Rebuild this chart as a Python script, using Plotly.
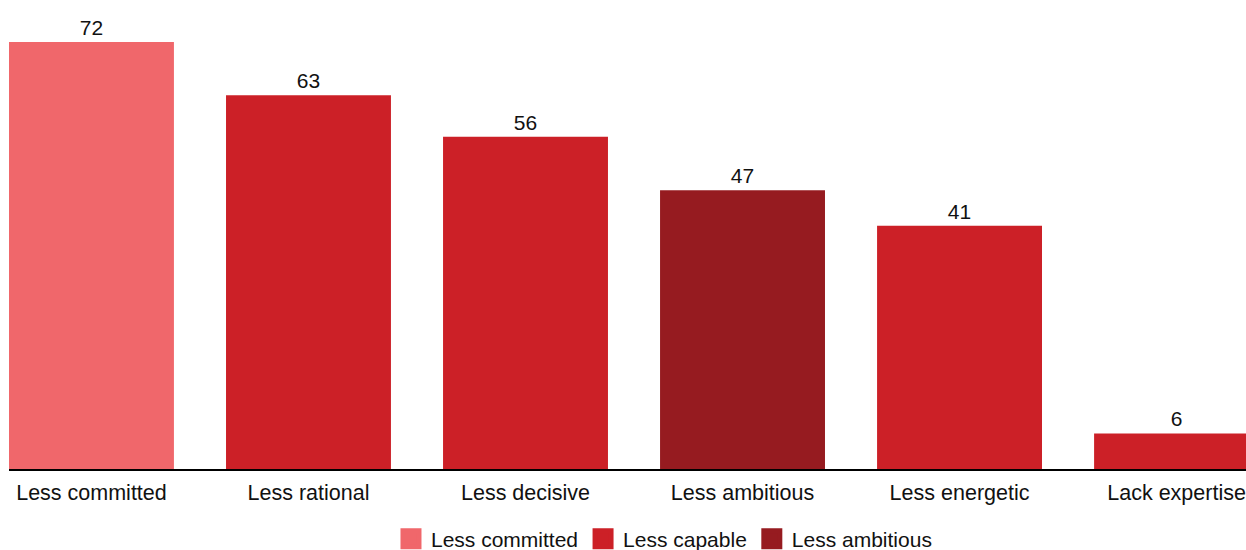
import plotly.graph_objects as go

categories = ["Less committed", "Less rational", "Less decisive", "Less ambitious", "Less energetic", "Lack expertise"]
values = [72, 63, 56, 47, 41, 6]
groups = ["Less committed", "Less capable", "Less capable", "Less ambitious", "Less capable", "Less capable"]
group_names = ["Less committed", "Less capable", "Less ambitious"]
group_colors = ["#F0676B", "#CC2027", "#961B20"]

FONT = "Liberation Sans, Arial, sans-serif"

fig = go.Figure()
for name, color in zip(group_names, group_colors):
    xs = [c for c, g in zip(categories, groups) if g == name]
    ys = [v for v, g in zip(values, groups) if g == name]
    fig.add_trace(go.Bar(
        x=xs, y=ys, name=name, marker=dict(color=color, line=dict(width=0)),
        text=[str(v) for v in ys], textposition="outside",
        textfont=dict(family=FONT, size=21, color="#111111"),
        cliponaxis=False, hoverinfo="x+y", showlegend=False, legendgroup=name,
    ))
# legend-only entries with larger square swatches
for name, color in zip(group_names, group_colors):
    fig.add_trace(go.Scatter(
        x=[None], y=[None], name=name, legendgroup=name, mode="markers",
        marker=dict(color=color, symbol="square", size=24, line=dict(width=6, color=color)),
        showlegend=True, hoverinfo="skip",
    ))

fig.update_layout(
    width=1246, height=550,
    margin=dict(l=9, r=0, t=20, b=81),
    paper_bgcolor="white", plot_bgcolor="white",
    barmode="relative", bargap=0.24,
    font=dict(family=FONT, size=21, color="#111111"),
    showlegend=True,
    legend=dict(orientation="h", x=0.5295, xanchor="center", y=11/550, yref="container",
                yanchor="middle", font=dict(family=FONT, size=21, color="#111111"),
                traceorder="normal", itemwidth=30),
    xaxis=dict(categoryorder="array", categoryarray=categories, range=[-0.38, 5.32],
               showline=True, linecolor="black", linewidth=2, ticks="outside",
               ticklen=3, tickcolor="rgba(0,0,0,0)", showgrid=False,
               tickfont=dict(family=FONT, size=21.5, color="#111111")),
    yaxis=dict(range=[0, 75.7], visible=False, showgrid=False, zeroline=False),
)

fig.write_html("out.html")
